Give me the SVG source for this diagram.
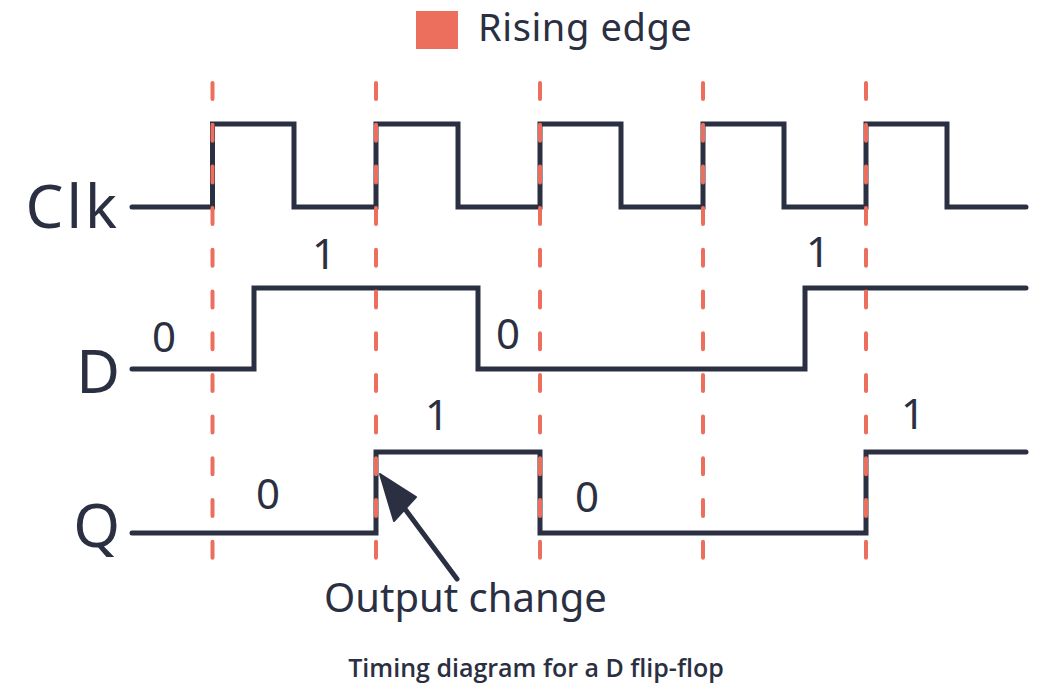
<svg xmlns="http://www.w3.org/2000/svg" width="1054" height="687" viewBox="0 0 1054 687">
<style>
.sig{fill:none;stroke:#2b2f42;stroke-width:5;stroke-linecap:round;stroke-linejoin:miter}
.edge{stroke:#ec6f5e;stroke-width:4;stroke-linecap:round;stroke-dasharray:16 25.7}
.lbl{font-family:"Noto Sans","Open Sans",sans-serif;fill:#2b2f42}
.name{font-size:60px;text-anchor:end}
.val{font-size:42px;text-anchor:middle}
</style>
<rect width="1054" height="687" fill="#ffffff"/>
<g id="legend">
<rect x="416" y="11" width="42" height="38" fill="#ec6f5e"/>
<text class="lbl" x="478" y="41" font-size="38" letter-spacing="0.6">Rising edge</text>
</g>
<g id="clk">
<text class="lbl name" x="120" y="228" letter-spacing="3">Clk</text>
<path class="sig" d="M132,207 H212.5 V124 H294 V207 H376 V124 H458 V207 H540 V124 H621 V207 H703 V124 H784 V207 H866 V124 H947 V207 H1026"/>
</g>
<g id="d">
<text class="lbl name" x="120" y="393">D</text>
<path class="sig" d="M132,369 H254 V288 H478 V369 H805 V288 H1026"/>
<text class="lbl val" x="164" y="352">0</text>
<text class="lbl val" x="324" y="269">1</text>
<text class="lbl val" x="508" y="349">0</text>
<text class="lbl val" x="818" y="267">1</text>
</g>
<g id="q">
<text class="lbl name" x="120" y="547">Q</text>
<path class="sig" d="M132,533 H376 V452 H540 V533 H866 V452 H1026"/>
<text class="lbl val" x="268" y="509">0</text>
<text class="lbl val" x="437" y="430">1</text>
<text class="lbl val" x="587" y="512">0</text>
<text class="lbl val" x="913" y="429">1</text>
</g>
<g id="edges">
<line class="edge" x1="212.5" y1="83" x2="212.5" y2="560"/>
<line class="edge" x1="376" y1="83" x2="376" y2="560"/>
<line class="edge" x1="540" y1="83" x2="540" y2="560"/>
<line class="edge" x1="703" y1="83" x2="703" y2="560"/>
<line class="edge" x1="866" y1="83" x2="866" y2="560"/>
</g>
<g id="connectors">
<line x1="457" y1="579" x2="402" y2="505" stroke="#2b2f42" stroke-width="5" stroke-linecap="round"/>
<polygon points="380,474 416,497 394,521" fill="#2b2f42" stroke="#2b2f42" stroke-width="2" stroke-linejoin="round"/>
</g>
<g id="annotation">
<text class="lbl" x="324" y="612" font-size="40">Output change</text>
</g>
<text x="536" y="677" font-family="'Open Sans','Noto Sans',sans-serif" font-weight="600" font-size="25" fill="#2b2f42" text-anchor="middle">Timing diagram for a D flip-flop</text>
</svg>
